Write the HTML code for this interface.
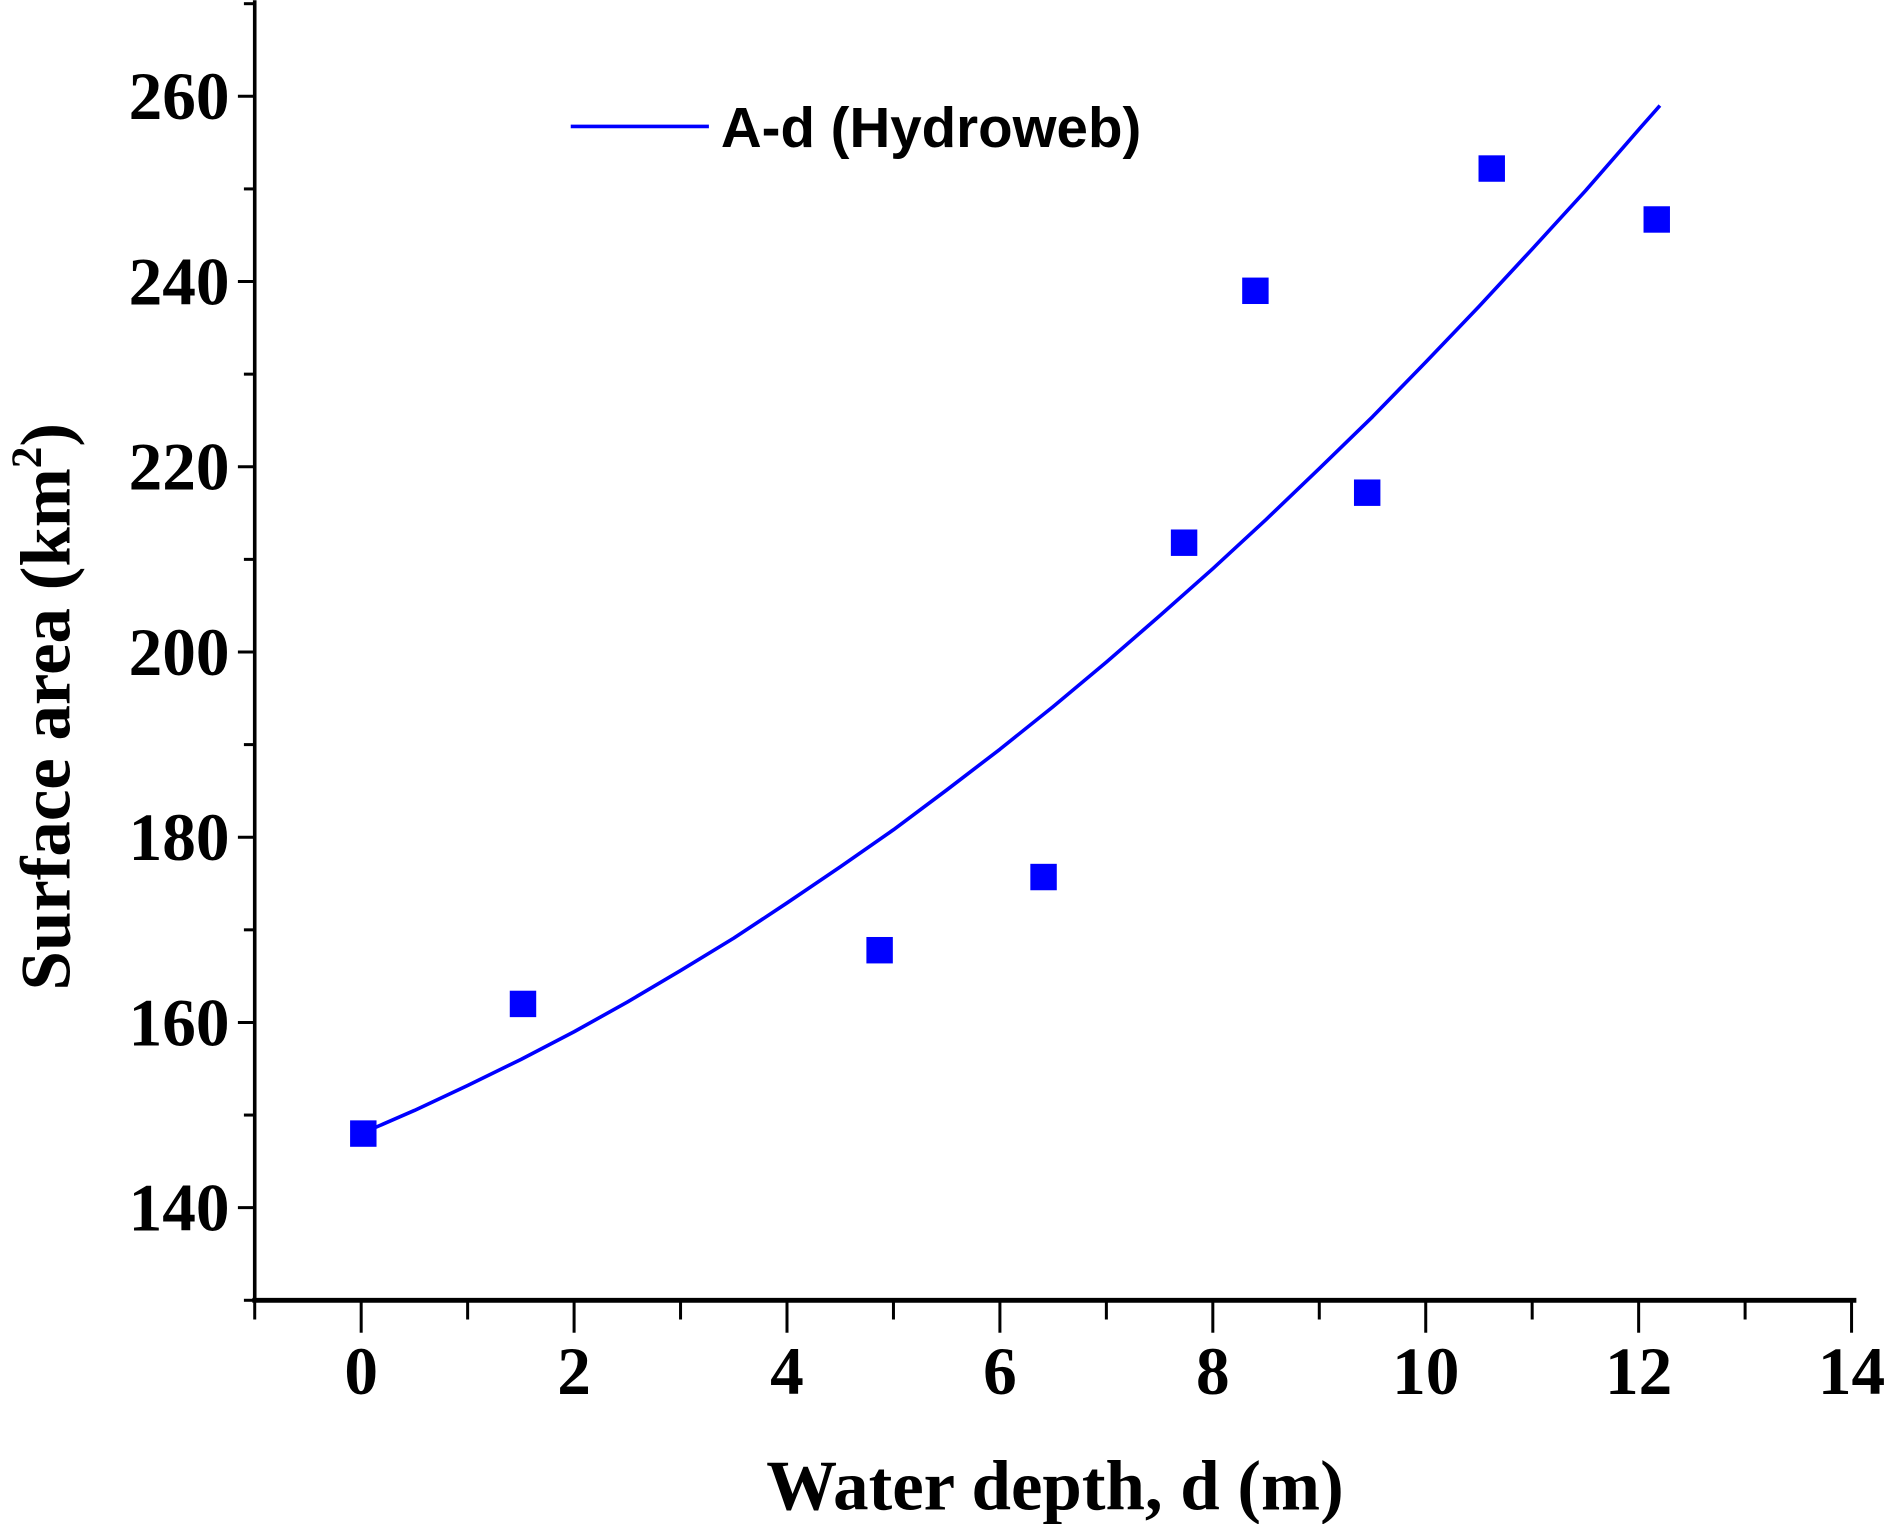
<!DOCTYPE html>
<html><head><meta charset="utf-8"><style>html,body{margin:0;padding:0;background:#fff}svg{display:block}</style></head>
<body>
<svg id="chart" width="1884" height="1524" viewBox="0 0 1568 1268" xmlns="http://www.w3.org/2000/svg">
<g id="axes"></g>
<g id="marks"></g>
<g>
<line x1="475" y1="105" x2="590" y2="105" stroke="#0000ff" stroke-width="3"/>
<text x="600" y="122" font-family="Liberation Sans, sans-serif" font-weight="bold" font-size="47">A-d (Hydroweb)</text>
</g>
<text x="878" y="1256" text-anchor="middle" font-family="Liberation Serif, serif" font-weight="bold" font-size="59">Water depth, d (m)</text>
<text transform="translate(58,588) rotate(-90)" text-anchor="middle" font-family="Liberation Serif, serif" font-weight="bold" font-size="59">Surface area (km<tspan dy="-24" font-size="36">2</tspan><tspan dy="24">)</tspan></text>
</svg>
<script>
const xTicks = [0, 2, 4, 6, 8, 10, 12, 14];
const yTicks = [140, 160, 180, 200, 220, 240, 260];
const depthObs = [0.02, 1.52, 4.87, 6.41, 7.73, 8.4, 9.45, 10.62, 12.17];
const areaObs = [148, 162, 167.8, 175.7, 211.8, 239, 217.2, 252.2, 246.7];
const depthFit = [0, 0.5, 1, 1.5, 2, 2.5, 3, 3.5, 4, 4.5, 5, 5.5, 6, 6.5, 7, 7.5, 8, 8.5, 9, 9.5, 10, 10.5, 11, 11.5, 12, 12.2];
const areaFit = [148, 150.5, 153.2, 156, 159, 162.2, 165.6, 169.1, 172.9, 176.8, 180.8, 185.1, 189.5, 194.1, 198.9, 203.9, 209, 214.3, 219.8, 225.4, 231.3, 237.3, 243.5, 249.8, 256.4, 259];
const NS = 'http://www.w3.org/2000/svg';
const X0 = 212, X1 = 1541, XMIN = -1, XMAX = 14;
const Y0 = 1082, YMIN = 130, PXY = 7.708;
const sx = v => X0 + (v - XMIN) * (X1 - X0) / (XMAX - XMIN);
const sy = v => Y0 - (v - YMIN) * PXY;
function mk(tag, attrs, parent) { const e = document.createElementNS(NS, tag); for (const k in attrs) e.setAttribute(k, attrs[k]); parent.appendChild(e); return e; }
const axes = document.getElementById('axes');
const marks = document.getElementById('marks');
let el = mk('line', {x1: X0, y1: 0, x2: X0, y2: Y0, stroke: '#000', 'stroke-width': 3}, axes);


el = mk('line', {x1: X0 - 2, y1: Y0, x2: 1545, y2: Y0, stroke: '#000', 'stroke-width': 4}, axes);


for (let v = XMIN; v <= XMAX; v++) {
  const major = v % 2 === 0;
  el = mk('line', {x1: sx(v), y1: Y0, x2: sx(v), y2: Y0 + (major ? 27 : 16), stroke: '#000', 'stroke-width': 2.5}, axes);
  
  
}
xTicks.forEach(v => {
  const t = mk('text', {x: sx(v), y: 1160, 'text-anchor': 'middle', 'font-family': 'Liberation Serif, serif', 'font-weight': 'bold', 'font-size': 56}, axes);
  t.textContent = v;
  
  
});
for (let v = YMIN; v <= 270; v += 10) {
  const major = v % 20 === 0;
  el = mk('line', {x1: X0 - (major ? 14 : 9), y1: sy(v), x2: X0, y2: sy(v), stroke: '#000', 'stroke-width': 2.5}, axes);
  
  
}
yTicks.forEach(v => {
  const t = mk('text', {x: 191, y: sy(v) + 19, 'text-anchor': 'end', 'font-family': 'Liberation Serif, serif', 'font-weight': 'bold', 'font-size': 56}, axes);
  t.textContent = v;
  
  
});
const pts = depthFit.map((d, i) => sx(d).toFixed(1) + ',' + sy(areaFit[i]).toFixed(1)).join(' ');
el = mk('polyline', {points: pts, fill: 'none', stroke: '#0000ff', 'stroke-width': 3, 'stroke-linejoin': 'round'}, marks);


depthObs.forEach((d, i) => {
  const r = mk('rect', {x: sx(d) - 11, y: sy(areaObs[i]) - 11, width: 22, height: 22, fill: '#0000ff'}, marks);
  
  
});
</script>
</body></html>
